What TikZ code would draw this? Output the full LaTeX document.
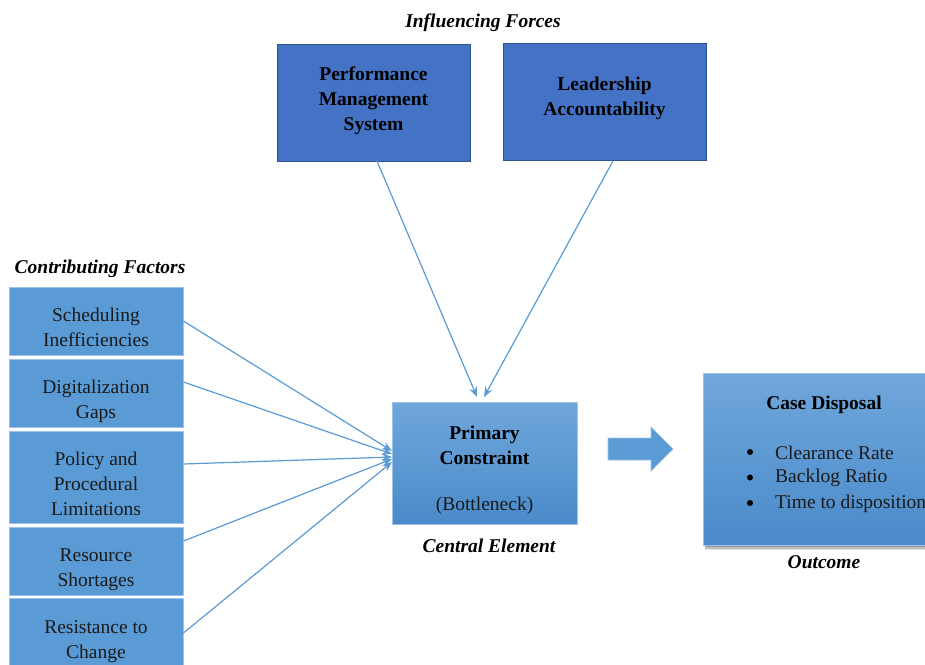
\documentclass[tikz,border=0pt]{standalone}
\usepackage{fontspec}
\setmainfont{Liberation Serif}
\usetikzlibrary{arrows.meta,shadows,fadings}
\definecolor{darkbox}{HTML}{4472C4}
\definecolor{darkedge}{HTML}{2F528F}
\definecolor{midbox}{HTML}{5B9BD5}
\definecolor{lightedge}{HTML}{9DC3E6}
\definecolor{linec}{HTML}{5B9BD5}
\definecolor{gradtop}{HTML}{70A7DC}
\definecolor{gradbot}{HTML}{4A8AC9}
\definecolor{txtc}{HTML}{1A1A1A}
\tikzset{
  topbox/.style={draw=darkedge, line width=0.9pt, fill=darkbox, inner sep=0pt},
  factorbox/.style={draw=lightedge, line width=0.9pt, fill=midbox, inner sep=0pt},
  gradbox/.style={draw=lightedge, line width=0.7pt, top color=gradtop, bottom color=gradbot, inner sep=0pt},
  txt/.style={align=center, font=\fontsize{19.5}{25}\selectfont, text=txtc, inner sep=0pt},
  btxt/.style={txt, font=\fontsize{19.5}{25}\selectfont\bfseries, text=black},
  heading/.style={font=\fontsize{19.5}{25}\selectfont\bfseries\itshape, text=black, inner sep=0pt},
  conn/.style={draw=linec, line width=1.2pt, -{Stealth[length=10pt,width=8pt]}},
}
\begin{document}
\begin{tikzpicture}[x=1pt,y=-1pt]
\useasboundingbox (0,0) rectangle (925,664);
\clip (0,0) rectangle (925,664);
\fill[white] (0,0) rectangle (925,664);

% headings
\node[heading] (hinf) at (483,22.5) {Influencing Forces};
\node[heading] (hcon) at (100,268.5) {Contributing Factors};
\node[heading] (hcen) at (489,546) {Central Element};
\node[heading] (hout) at (824,562) {Outcome};

% top boxes
\node[topbox, minimum width=193pt, minimum height=117pt] (pms) at (373.5,102.5) {};
\node[btxt] (pmst) at (373.5,100.5) {Performance\\Management\\System};
\node[topbox, minimum width=203pt, minimum height=117pt] (la) at (604.5,101.5) {};
\node[btxt] (lat) at (604.5,98.5) {Leadership\\Accountability};

% left factor boxes
\node[factorbox, minimum width=174pt, minimum height=68pt] (f1) at (96,321) {};
\node[txt] (f1t) at (96,327.5) {Scheduling\\Inefficiencies};
\node[factorbox, minimum width=174pt, minimum height=68pt] (f2) at (96,393) {};
\node[txt] (f2t) at (96,401) {Digitalization\\Gaps};
\node[factorbox, minimum width=174pt, minimum height=92pt] (f3) at (96,477) {};
\node[txt] (f3t) at (96,483.5) {Policy and\\Procedural\\Limitations};
\node[factorbox, minimum width=174pt, minimum height=68pt] (f4) at (96,561) {};
\node[txt] (f4t) at (96,569.5) {Resource\\Shortages};
\node[factorbox, minimum width=174pt, minimum height=72pt] (f5) at (96,634) {};
\node[txt] (f5t) at (96,641.5) {Resistance to\\Change};

% central box
\node[gradbox, minimum width=185pt, minimum height=122pt] (pc) at (484.5,463) {};
\node[btxt] (pct) at (484.5,445) {Primary\\Constraint};
\node[txt] (pcb) at (484.5,505.5) {(Bottleneck)};

% block arrow
\draw[fill=midbox, draw=lightedge, line width=0.7pt]
  (608,438) -- (651,438) -- (651,427) -- (673,449) -- (651,471) -- (651,460) -- (608,460) -- cycle;

% outcome box shadow
\fill[black, opacity=0.12] (705,377) rectangle (930,550);
\fill[black, opacity=0.15] (705,377) rectangle (930,548.5);
\fill[black, opacity=0.2] (705,377) rectangle (930,547);
% outcome box
\node[gradbox, minimum width=240pt, minimum height=172pt] (cd) at (823,459) {};
\node[btxt] (cdt) at (824,404.5) {Case Disposal};
\node[txt, anchor=west] (b1) at (775,453) {Clearance Rate};
\node[txt, anchor=west] (b2) at (775,478) {Backlog Ratio};
\node[txt, anchor=west] (b3) at (775,504) {Time to disposition};
\fill[black] (750,452) circle (3pt);
\fill[black] (750,477.5) circle (3pt);
\fill[black] (750,503) circle (3pt);

% connectors
\coordinate (pin1) at (477,397);
\coordinate (pin2) at (484,397);
\draw[conn] (377,161) -- (pin1);
\draw[conn] (613,161) -- (pin2);

\coordinate (lin1) at (392,451);
\coordinate (lin2) at (392,454);
\coordinate (lin3) at (392,457);
\coordinate (lin4) at (392,459);
\coordinate (lin5) at (392,462);
\draw[conn] (f1.east |- 0,321) -- (lin1);
\draw[conn] (f2.east |- 0,382) -- (lin2);
\draw[conn] (f3.east |- 0,464) -- (lin3);
\draw[conn] (f4.east |- 0,541) -- (lin4);
\draw[conn] (f5.east |- 0,633) -- (lin5);
\end{tikzpicture}
\end{document}
